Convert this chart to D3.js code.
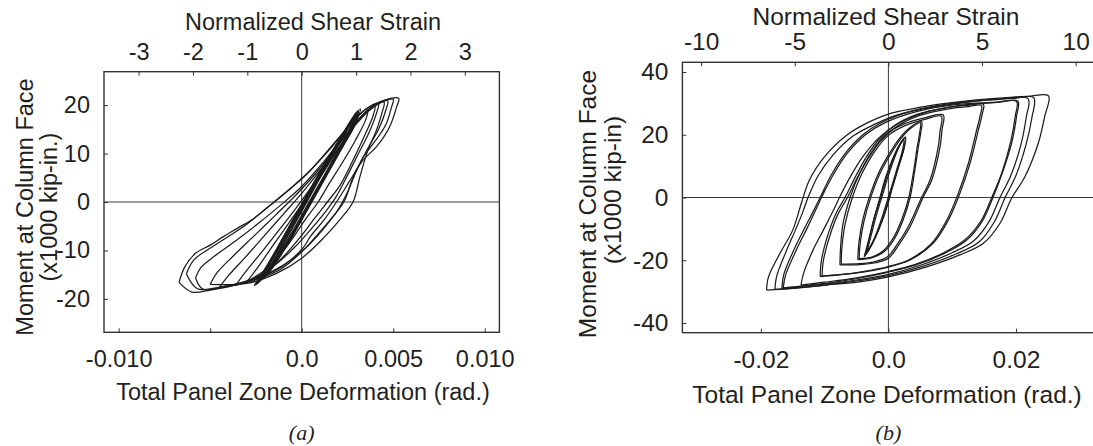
<!DOCTYPE html>
<html lang="en">
<head>
<meta charset="UTF-8">
<title>Panel zone hysteresis</title>
<script src="https://d3js.org/d3.v7.min.js"></script>
<style>
    body { margin: 0; background: #fff; }
    svg text { font-family: "Liberation Sans", Arial, sans-serif; fill: #231f20; }
    .caption { font-family: "Liberation Serif", "Times New Roman", serif; font-style: italic; }
</style>
</head>
<body>
<svg id="fig" width="1093" height="446"></svg>
<script>
// ---- data: panel (a), rad vs x1000 kip-in ----
const bandA1 = [[-0.0024,-16.8],[-0.0016,-11.5],[-0.0008,-6.2],[0,-1.0],[0.0008,4.4],[0.0016,9.6],[0.0024,14.6],[0.0031,18.9],[0.0029,16.2],[0.0022,11.5],[0.0014,6.2],[0.0006,0.8],[-0.0002,-4.6],[-0.0010,-9.8],[-0.0018,-14.2],[-0.0024,-16.8]];
const bandA2 = [[-0.0022,-16.0],[-0.0014,-10.6],[-0.0006,-5.2],[0.0002,0.2],[0.0010,5.6],[0.0018,10.8],[0.0025,15.3],[0.0030,18.2],[0.0028,15.4],[0.0021,10.6],[0.0013,5.2],[0.0005,-0.2],[-0.0003,-5.6],[-0.0011,-10.6],[-0.0018,-14.6],[-0.0022,-16.0]];
const bandA3 = [[-0.0020,-15.4],[-0.0013,-10.5],[-0.0005,-5],[0.0003,0.5],[0.0011,6],[0.0019,11.2],[0.0026,16],[0.0029,17.5],[0.0026,14.6],[0.0019,9.8],[0.0011,4.3],[0.0003,-1.2],[-0.0005,-6.6],[-0.0013,-11.6],[-0.0020,-15.4]];
const bandA4 = [[-0.0026,-17.3],[-0.0018,-12.5],[-0.0010,-7.2],[-0.0002,-1.8],[0.0006,3.6],[0.0014,8.8],[0.0022,13.8],[0.0028,17.4],[0.0032,19.2],[0.0030,16.8],[0.0024,12.6],[0.0016,7.2],[0.0008,1.8],[0,-3.5],[-0.0008,-8.8],[-0.0016,-13.4],[-0.0026,-17.3]];
const bandA5 = [[-0.0018,-14.2],[-0.0011,-9.4],[-0.0003,-4],[0.0005,1.5],[0.0013,7],[0.0021,12.4],[0.0027,16.4],[0.0025,13.8],[0.0018,9.2],[0.0010,3.6],[0.0002,-1.8],[-0.0006,-7.2],[-0.0013,-11.4],[-0.0018,-14.2]];
const bandA6 = [[-0.0025,-17.1],[-0.0017,-12],[-0.0009,-6.6],[-0.0001,-1.2],[0.0007,4.2],[0.0015,9.4],[0.0023,14.4],[0.0030,18.6],[0.0027,15.4],[0.0020,10.6],[0.0012,5.3],[0.0004,0],[-0.0004,-5.4],[-0.0012,-10.4],[-0.0019,-14.6],[-0.0025,-17.1]];
const bandA7 = [[-0.0021,-15.8],[-0.0015,-11.8],[-0.0007,-6.4],[0.0001,-1],[0.0009,4.6],[0.0017,9.9],[0.0025,14.9],[0.0031,18.4],[0.0029,15.8],[0.0023,11.8],[0.0015,6.4],[0.0007,1],[-0.0001,-4.4],[-0.0009,-9.6],[-0.0016,-13.6],[-0.0021,-15.8]];
const bandA8 = [[-0.0023,-16.4],[-0.0015,-11],[-0.0007,-5.6],[0.0001,-0.2],[0.0009,5.2],[0.0017,10.2],[0.0024,14.8],[0.0030,18],[0.0028,15.8],[0.0021,11],[0.0013,5.6],[0.0005,0.2],[-0.0003,-5.2],[-0.0011,-10.2],[-0.0017,-13.8],[-0.0023,-16.4]];
const midA1 = [[-0.0045,-17.6],[-0.0040,-15.2],[-0.0031,-11.5],[-0.0020,-6.8],[-0.0010,-2.5],[0,1.8],[0.0011,7],[0.0021,12.2],[0.0030,16.5],[0.0037,19.3],[0.0042,20.3],[0.0041,18.5],[0.0037,14.5],[0.0031,10],[0.0025,5.5],[0.0019,1.2],[0.0014,-1.5],[0.0006,-5.2],[-0.0004,-9.4],[-0.0016,-13.4],[-0.0030,-16.3],[-0.0045,-17.6]];
const midA2 = [[-0.0036,-17.2],[-0.0031,-14.6],[-0.0022,-10.4],[-0.0012,-5.6],[-0.0003,-1.2],[0.0007,4],[0.0017,9.5],[0.0027,14.8],[0.0035,18.6],[0.0040,19.8],[0.0039,17.8],[0.0034,13.4],[0.0028,8.6],[0.0021,3.5],[0.0014,0],[0.0007,-3.4],[-0.0002,-7.8],[-0.0012,-12],[-0.0024,-15.5],[-0.0036,-17.2]];
const midA3 = [[-0.0030,-16.5],[-0.0024,-13.5],[-0.0015,-8.6],[-0.0006,-3.8],[0.0002,0.6],[0.0012,6.2],[0.0022,12],[0.0030,16.5],[0.0036,18.8],[0.0035,17],[0.0029,12.5],[0.0022,8],[0.0015,3.8],[0.0009,0],[0.0002,-3.6],[-0.0007,-8.6],[-0.0018,-13.4],[-0.0030,-16.5]];
const midA4 = [[-0.0050,-17.0],[-0.0046,-14.5],[-0.0037,-11],[-0.0026,-7],[-0.0014,-2.6],[-0.0003,1.5],[0.0009,6.5],[0.0020,11.8],[0.0030,16.2],[0.0038,19.2],[0.0045,20.6],[0.0044,18.6],[0.0041,15],[0.0036,10.5],[0.0032,5.5],[0.0028,0],[0.0021,-3.6],[0.0012,-7.4],[0,-11.6],[-0.0014,-14.8],[-0.0030,-16.8],[-0.0050,-17.0]];
const outerA1 = [[-0.0067,-16.6],[-0.0064,-13.5],[-0.0058,-10.6],[-0.0050,-8.9],[-0.0043,-7.2],[-0.0035,-5.4],[-0.0027,-3.6],[-0.0016,-0.3],[-0.0006,2.8],[0.0003,5.8],[0.0014,10.5],[0.0025,15.3],[0.0035,19.2],[0.0044,20.9],[0.0053,21.4],[0.0052,19.8],[0.0048,15.5],[0.0041,11.5],[0.0033,8.4],[0.0026,4.2],[0.0019,0],[0.0012,-3.8],[0.0005,-7],[0,-9.8],[-0.0014,-14.1],[-0.0033,-16.8],[-0.0050,-18.2],[-0.0060,-18.6],[-0.0067,-16.6]];
const outerA2 = [[-0.0063,-14.8],[-0.0059,-12],[-0.0052,-10],[-0.0042,-7.6],[-0.0030,-4.6],[-0.0019,-1.2],[-0.0008,2.2],[0.0004,6.3],[0.0016,11.2],[0.0026,15.8],[0.0036,19.4],[0.0044,20.7],[0.0050,21.2],[0.0049,19.5],[0.0046,16],[0.0040,12.5],[0.0034,9.5],[0.0028,5],[0.0023,0],[0.0016,-3.5],[0.0008,-7],[0,-10.3],[-0.0012,-14],[-0.0028,-16.4],[-0.0045,-17.6],[-0.0057,-17.9],[-0.0063,-14.8]];
const outerA3 = [[-0.0058,-15.7],[-0.0055,-13.5],[-0.0047,-11],[-0.0036,-8],[-0.0024,-4.5],[-0.0012,-0.8],[0,3.2],[0.0012,8.3],[0.0023,13.5],[0.0033,17.8],[0.0042,20.4],[0.0047,20.9],[0.0046,19],[0.0042,15],[0.0036,11],[0.0030,6.5],[0.0025,2],[0.0020,-1.5],[0.0012,-5.5],[0.0003,-9.2],[-0.0010,-13],[-0.0025,-15.8],[-0.0042,-17.4],[-0.0054,-18],[-0.0058,-15.7]];

// ---- data: panel (b) ----
const bandB1 = [[-0.0036,-18.3],[-0.0030,-13],[-0.0022,-6.5],[-0.0012,0],[-0.0002,7],[0.0010,13.5],[0.0020,17.5],[0.0026,18.9],[0.0024,15.5],[0.0016,10],[0.0007,4],[0.0002,0],[-0.0008,-6.5],[-0.0020,-12.5],[-0.0030,-16.5],[-0.0036,-18.3]];
const bandB2 = [[-0.0034,-17.6],[-0.0027,-12],[-0.0019,-5.8],[-0.0010,0.3],[0,7],[0.0011,13.4],[0.0019,17],[0.0024,18.3],[0.0022,15],[0.0014,9.5],[0.0005,3.4],[-0.0001,-0.5],[-0.0011,-7],[-0.0022,-13],[-0.0034,-17.6]];
const bandB3 = [[-0.0038,-18.9],[-0.0031,-13.6],[-0.0023,-7],[-0.0014,-0.5],[-0.0004,6.6],[0.0008,13],[0.0019,17.4],[0.0027,19.3],[0.0025,16],[0.0017,10.4],[0.0008,4.3],[0.0001,-0.3],[-0.0009,-6.9],[-0.0021,-13],[-0.0032,-17.2],[-0.0038,-18.9]];
const loopB = [[-0.0048,-19.8],[-0.0046,-14],[-0.0040,-7],[-0.0030,0],[-0.0016,7.5],[0,13.5],[0.0018,19],[0.0035,22.5],[0.0052,24.2],[0.0051,21],[0.0047,16.2],[0.0042,9.5],[0.0034,0],[0.0023,-7.2],[0.0010,-13],[-0.0005,-17],[-0.0025,-19.2],[-0.0048,-19.8]];
const loopB2 = [[-0.0046,-19.5],[-0.0044,-14.2],[-0.0038,-7.3],[-0.0028,-0.2],[-0.0014,7.3],[0.0002,13.3],[0.0019,18.6],[0.0036,22.2],[0.0050,23.8],[0.0049,20.6],[0.0045,15.8],[0.0040,9],[0.0032,0],[0.0021,-7],[0.0008,-12.8],[-0.0007,-16.8],[-0.0026,-19],[-0.0046,-19.5]];
const loopC = [[-0.0076,-21.5],[-0.0075,-16],[-0.0071,-8.2],[-0.0060,0],[-0.0045,7.7],[-0.0024,15.2],[-0.0003,20.3],[0.0023,23.3],[0.0055,25.3],[0.0086,26.3],[0.0084,21.5],[0.0081,16.2],[0.0068,5.6],[0.0055,0.3],[0.0034,-9.3],[0.0015,-15.5],[0,-19.4],[-0.0020,-20.8],[-0.0045,-21.4],[-0.0076,-21.5]];
const loopC2 = [[-0.0074,-21.2],[-0.0073,-16.2],[-0.0068,-8.6],[-0.0057,-0.3],[-0.0042,7.4],[-0.0021,14.8],[0,19.8],[0.0026,22.9],[0.0057,24.9],[0.0083,25.9],[0.0081,21.2],[0.0078,16],[0.0065,5.4],[0.0052,0],[0.0032,-9],[0.0013,-15.2],[-0.0002,-19],[-0.0022,-20.5],[-0.0046,-21.1],[-0.0074,-21.2]];
const loopD = [[-0.0107,-25.2],[-0.0105,-20],[-0.0095,-12],[-0.0082,-5],[-0.0068,0],[-0.0052,6.5],[-0.0035,12.8],[-0.0015,18.5],[0.0010,23],[0.0045,26.5],[0.0090,28.6],[0.0125,29.4],[0.0149,29.7],[0.0147,26.5],[0.0141,21.5],[0.0128,10.9],[0.0112,1.3],[0.0094,-7.2],[0.0070,-14.6],[0.0034,-19.9],[0,-22],[-0.0040,-23.6],[-0.0075,-24.6],[-0.0107,-25.2]];
const loopD2 = [[-0.0104,-25],[-0.0102,-20.2],[-0.0092,-12.3],[-0.0079,-5.3],[-0.0065,-0.3],[-0.0049,6.2],[-0.0032,12.4],[-0.0012,18.1],[0.0013,22.6],[0.0048,26.1],[0.0092,28.2],[0.0126,29],[0.0146,29.3],[0.0144,26.2],[0.0138,21.2],[0.0125,10.6],[0.0109,1],[0.0091,-7.4],[0.0067,-14.8],[0.0031,-20],[0,-22.2],[-0.0040,-23.8],[-0.0075,-24.6],[-0.0104,-25]];
const loopE = [[-0.0137,-27.9],[-0.0133,-24.2],[-0.0118,-16.7],[-0.0102,-10.4],[-0.0086,-4],[-0.0076,0.3],[-0.0060,6.5],[-0.0040,13],[-0.0015,19],[0.0015,23.5],[0.0060,27.3],[0.0120,29.5],[0.0170,30.3],[0.0201,30.6],[0.0199,26],[0.0192,18],[0.0178,8],[0.0162,0],[0.0145,-7.5],[0.0120,-13.5],[0.0085,-17.8],[0.0040,-21.5],[0,-23.6],[-0.0050,-25.6],[-0.0100,-27],[-0.0137,-27.9]];
const loopE2 = [[-0.0165,-28.8],[-0.0161,-24.6],[-0.0145,-17],[-0.0127,-9.6],[-0.0114,-4],[-0.0104,0.4],[-0.0086,7.4],[-0.0064,14.2],[-0.0036,20],[-0.0006,23.8],[0.0044,27.4],[0.0105,29.6],[0.0170,30.4],[0.0203,30.7],[0.0201,26],[0.0194,18],[0.0179,8],[0.0164,0],[0.0147,-7.6],[0.0122,-13.7],[0.0087,-17.9],[0.0042,-21.6],[0,-23.8],[-0.0050,-25.9],[-0.0100,-27.4],[-0.0140,-28.3],[-0.0165,-28.8]];
const loopF = [[-0.0167,-29],[-0.0164,-24.5],[-0.0150,-17.5],[-0.0132,-10],[-0.0118,-4.5],[-0.0107,0],[-0.0090,7],[-0.0068,14],[-0.0040,20],[-0.0010,24],[0.0040,27.8],[0.0100,30],[0.0170,31.2],[0.0219,31.5],[0.0216,25.5],[0.0208,17],[0.0192,7],[0.0175,0],[0.0158,-7.6],[0.0134,-13.8],[0.0099,-17.7],[0.0050,-21.6],[0,-24.5],[-0.0050,-26.3],[-0.0100,-27.6],[-0.0140,-28.4],[-0.0167,-29]];
const loopF2 = [[-0.0178,-29.3],[-0.0175,-25],[-0.0161,-17.5],[-0.0145,-10],[-0.0134,-4.5],[-0.0126,0],[-0.0110,7],[-0.0087,13.5],[-0.0056,19.5],[-0.0022,23.3],[0.0012,26.2],[0.0070,28.8],[0.0145,30.9],[0.0195,31.6],[0.0228,31.8],[0.0225,25.5],[0.0216,17],[0.0200,7],[0.0183,0],[0.0166,-7.8],[0.0142,-14.2],[0.0106,-18],[0.0056,-21.8],[0,-24.9],[-0.0050,-26.6],[-0.0100,-27.9],[-0.0145,-28.8],[-0.0178,-29.3]];
const loopG = [[-0.0191,-29.5],[-0.0188,-25.3],[-0.0170,-17.8],[-0.0150,-10.4],[-0.0136,-1.5],[-0.0124,5.5],[-0.0100,13],[-0.0065,19.9],[-0.0034,23.7],[0,26.6],[0.0060,29.1],[0.0138,31.1],[0.0217,32.2],[0.0251,32.4],[0.0245,25.8],[0.0235,17.3],[0.0214,6.6],[0.0193,-0.3],[0.0175,-8.2],[0.0149,-14.6],[0.0112,-18.3],[0.0060,-22.1],[0,-25.3],[-0.0045,-26.9],[-0.0097,-27.9],[-0.0149,-29],[-0.0191,-29.5]];

// ---- ticks ----
const xTicksA = [-0.010, -0.005, 0, 0.005, 0.010];
const xLabelsA = ["-0.010", "", "0.0", "0.005", "0.010"];
const topTicksA = [-3, -2, -1, 0, 1, 2, 3];
const yTicksA = [-20, -10, 0, 10, 20];
const xTicksB = [-0.02, 0, 0.02];
const xLabelsB = ["-0.02", "0.0", "0.02"];
const topTicksB = [-10, -5, 0, 5, 10];
const yTicksB = [-40, -20, 0, 20, 40];

const svg = d3.select("#fig");
const plain = d => String(d);  // keep ASCII hyphen for negatives

const panels = [
    {
        id: "a",
        loops: [outerA1, outerA2, outerA3, midA4, midA1, midA2, midA3, bandA1, bandA2, bandA3, bandA4, bandA5, bandA6, bandA7, bandA8],
        left: 104, right: 499.4, top: 71.7, bottom: 332.3,
        xDomain: [-0.0108, 0.0108], topDomain: [-3.636, 3.636], yDomain: [-26.9, 26.9],
        xTicks: xTicksA, xLabels: xLabelsA, topTicks: topTicksA, yTicks: yTicksA,
        fs: 23.5, topTitleX: 313, topTitleY: 30, topLabelPad: 11.7, botLabelY: 35, botTitleX: 303, botTitleY: 400,
        yTitle1: "Moment at Column Face", yTitle2: "(x1000 kip-in.)",
        yT1x: 33, yT1y: 207, yT2x: 57, yT2y: 207, capX: 301.7
    },
    {
        id: "b",
        loops: [loopG, loopF2, loopF, loopE2, loopE, loopD, loopD2, loopC, loopC2, loopB, loopB2, bandB1, bandB2, bandB3],
        left: 682.4, right: 1094.4, top: 62.3, bottom: 332.7,
        xDomain: [-0.0323, 0.0323], topDomain: [-11.0, 11.0], yDomain: [-43.1, 43.1],
        xTicks: xTicksB, xLabels: xLabelsB, topTicks: topTicksB, yTicks: yTicksB,
        fs: 24.5, topTitleX: 886, topTitleY: 25, topLabelPad: 12.3, botLabelY: 35.6, botTitleX: 887, botTitleY: 402.7,
        yTitle1: "Moment at Column Face", yTitle2: "(x1000 kip-in)",
        yT1x: 596, yT1y: 204, yT2x: 621, yT2y: 190, capX: 888.4
    }
];

panels.forEach(p => {
    const g = svg.append("g");
    const x = d3.scaleLinear().domain(p.xDomain).range([p.left, p.right]);
    const xTop = d3.scaleLinear().domain(p.topDomain).range([p.left, p.right]);
    const y = d3.scaleLinear().domain(p.yDomain).range([p.bottom, p.top]);

    g.append("clipPath").attr("id", "clip-" + p.id)
        .append("rect").attr("x", p.left).attr("y", p.top)
        .attr("width", p.right - p.left).attr("height", p.bottom - p.top);

    // zero lines
    g.append("line").attr("x1", x(0)).attr("x2", x(0)).attr("y1", p.top).attr("y2", p.bottom)
        .attr("stroke", "#3a3a3a").attr("stroke-width", 1);
    g.append("line").attr("x1", p.left).attr("x2", p.right).attr("y1", y(0)).attr("y2", y(0))
        .attr("stroke", "#3a3a3a").attr("stroke-width", 1);

    const line = d3.line().x(d => x(d[0])).y(d => y(d[1])).curve(d3.curveCatmullRom.alpha(0.5));
    g.append("g").attr("clip-path", `url(#clip-${p.id})`)
        .selectAll("path").data(p.loops).enter().append("path")
        .attr("d", line)
        .attr("fill", "none")
        .attr("stroke", "#1c1c1c")
        .attr("stroke-width", 1.25)
        .attr("stroke-linejoin", "round");

    // axes, ticks pointing inward
    const bottomAxis = g.append("g").attr("transform", `translate(0,${p.bottom})`)
        .call(d3.axisBottom(x).tickValues(p.xTicks).tickFormat((d, i) => p.xLabels[i])
            .tickSizeInner(-4).tickSizeOuter(0));
    bottomAxis.selectAll("text").attr("y", p.botLabelY).attr("dy", 0);

    const topAxis = g.append("g").attr("transform", `translate(0,${p.top})`)
        .call(d3.axisTop(xTop).tickValues(p.topTicks).tickFormat(plain)
            .tickSizeInner(-4).tickSizeOuter(0).tickPadding(p.topLabelPad));
    topAxis.selectAll("text").attr("dy", 0);

    const leftAxis = g.append("g").attr("transform", `translate(${p.left},0)`)
        .call(d3.axisLeft(y).tickValues(p.yTicks).tickFormat(plain)
            .tickSizeInner(-4).tickSizeOuter(0).tickPadding(14));

    [bottomAxis, topAxis, leftAxis].forEach(a => {
        a.select(".domain").remove();
        a.attr("font-size", p.fs).attr("font-family", null).attr("color", "#333");
        a.selectAll("text").style("fill", "#231f20");
    });

    g.append("rect").attr("x", p.left).attr("y", p.top)
        .attr("width", p.right - p.left).attr("height", p.bottom - p.top)
        .attr("fill", "none").attr("stroke", "#333").attr("stroke-width", 1.4);

    // titles
    g.append("text").attr("x", p.topTitleX).attr("y", p.topTitleY).attr("text-anchor", "middle")
        .attr("font-size", p.fs).text("Normalized Shear Strain");
    g.append("text").attr("x", p.botTitleX).attr("y", p.botTitleY).attr("text-anchor", "middle")
        .attr("font-size", p.fs).text("Total Panel Zone Deformation (rad.)");
    g.append("text").attr("transform", `translate(${p.yT1x},${p.yT1y}) rotate(-90)`)
        .attr("text-anchor", "middle").attr("font-size", p.fs).text(p.yTitle1);
    g.append("text").attr("transform", `translate(${p.yT2x},${p.yT2y}) rotate(-90)`)
        .attr("text-anchor", "middle").attr("font-size", p.fs).text(p.yTitle2);
    g.append("text").attr("class", "caption").attr("x", p.capX).attr("y", 440)
        .attr("text-anchor", "middle").attr("font-size", 22).text(`(${p.id})`);
});
</script>
</body>
</html>
